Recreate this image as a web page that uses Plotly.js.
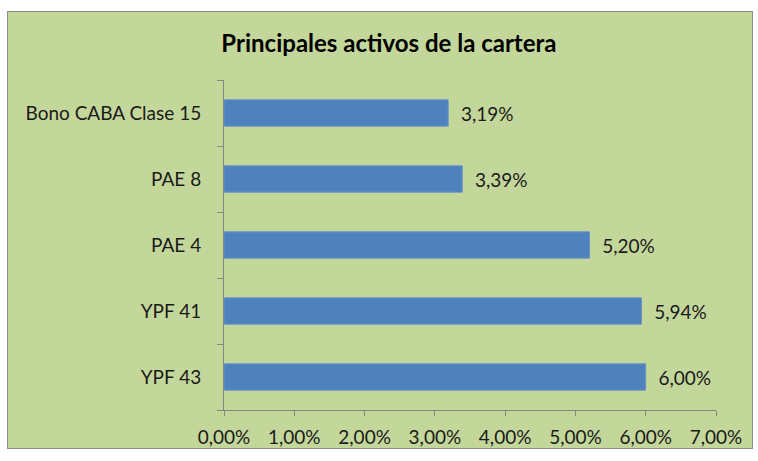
<!DOCTYPE html>
<html>
<head>
<meta charset="utf-8">
<script src="https://cdn.plot.ly/plotly-3.0.1.min.js"></script>
<style>
  body { margin: 0; background: #ffffff; }
  #grafico {
    position: absolute; left: 7px; top: 11px;
    width: 744px; height: 436px;
    border: 1px solid #8c8c8c;
  }
</style>
</head>
<body>
<div id="grafico"></div>
<script>
// Principales activos de la cartera (% de la cartera)
var activos = ['YPF 43', 'YPF 41', 'PAE 4', 'PAE 8', 'Bono CABA Clase 15'];
var porcentajes = [6.00, 5.94, 5.20, 3.39, 3.19];
var ticksX = [0, 1, 2, 3, 4, 5, 6, 7];

function formatoPct(v) {
    return v.toFixed(2).replace('.', ',') + '%';
}

var etiquetas = porcentajes.map(function (v) { return '  ' + formatoPct(v); });

var barras = {
    type: 'bar',
    orientation: 'h',
    y: activos,
    x: porcentajes,
    text: etiquetas,
    textposition: 'outside',
    cliponaxis: false,
    textfont: { family: 'Lato, sans-serif', size: 19, color: '#1a1a1a' },
    marker: { color: '#4f81bd', line: { color: '#6b95c9', width: 1 } },
    hoverinfo: 'none'
};

var layout = {
    width: 744,
    height: 436,
    paper_bgcolor: '#c4d79b',
    plot_bgcolor: '#c4d79b',
    margin: { l: 216, r: 36, t: 68, b: 38 },
    font: { family: 'Lato, sans-serif', size: 19, color: '#1a1a1a' },
    title: {
        text: '<b>Principales activos de la cartera</b>',
        font: { family: 'Lato, sans-serif', size: 24, color: '#000000' },
        x: 0.512,
        xref: 'container',
        y: 0.927,
        yref: 'container',
        yanchor: 'middle'
    },
    bargap: 0.6,
    showlegend: false,
    xaxis: {
        range: [0, 7],
        tickvals: ticksX,
        ticktext: ticksX.map(formatoPct),
        tickfont: { size: 19 },
        showgrid: false,
        zeroline: false,
        showline: true,
        linecolor: '#868686',
        linewidth: 1,
        ticks: 'outside',
        ticklen: 5,
        tickcolor: '#868686',
        ticklabelstandoff: 5,
        fixedrange: true
    },
    yaxis: {
        type: 'category',
        categoryorder: 'array',
        categoryarray: activos,
        showgrid: false,
        zeroline: false,
        showline: true,
        linecolor: '#868686',
        linewidth: 1,
        ticks: 'outside',
        tickson: 'boundaries',
        ticklen: 6,
        tickcolor: '#868686',
        ticklabelstandoff: 18,
        fixedrange: true
    }
};

Plotly.newPlot('grafico', [barras], layout, { displayModeBar: false, staticPlot: true });
</script>
</body>
</html>
